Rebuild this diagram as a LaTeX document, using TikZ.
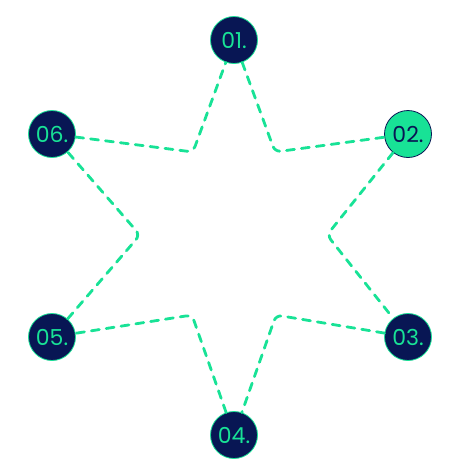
\documentclass[tikz,border=0pt]{standalone}
\usepackage{fontspec}
\usepackage{tikz}
\usetikzlibrary{positioning, calc}
\newfontfamily\badgefont{Poppins}
\definecolor{mynavy}{RGB}{8,22,84}
\definecolor{mygreen}{RGB}{24,226,150}
\tikzset{
  badge/.style={circle, draw=mygreen, fill=mynavy, text=mygreen,
    minimum size=47pt, inner sep=0pt, line width=0.8pt,
    font=\badgefont\fontsize{22}{22}\selectfont},
  badgehot/.style={badge, draw=mynavy, fill=mygreen, text=mynavy},
  starline/.style={draw=mygreen, line width=2.8pt, line cap=round,
    dash pattern=on 8pt off 7pt, rounded corners=6pt}
}
\begin{document}
\begin{tikzpicture}[x=1pt, y=-1pt]
  \useasboundingbox (0,0) rectangle (468,469);

  % outer points
  \node[badge] (n01) at (234,40) {01.};
  \node[badgehot] (n02) at (408,134) {02.};
  \node[badge] (n03) at (408,337) {03.};
  \node[badge] (n04) at (234,435) {04.};
  \node[badge] (n05) at (52,337) {05.};
  \node[badge] (n06) at (52,134) {06.};

  % inner corners
  \coordinate (tr) at (275,152);
  \coordinate (rr) at (327,235);
  \coordinate (br) at (276,315);
  \coordinate (bl) at (192,315);
  \coordinate (ll) at (140,235);
  \coordinate (tl) at (193,152);

  \path[starline] (n01) -- (tr) -- (n02);
  \path[starline] (n02) -- (rr) -- (n03);
  \path[starline] (n03) -- (br) -- (n04);
  \path[starline] (n04) -- (bl) -- (n05);
  \path[starline] (n05) -- (ll) -- (n06);
  \path[starline] (n06) -- (tl) -- (n01);
\end{tikzpicture}
\end{document}
